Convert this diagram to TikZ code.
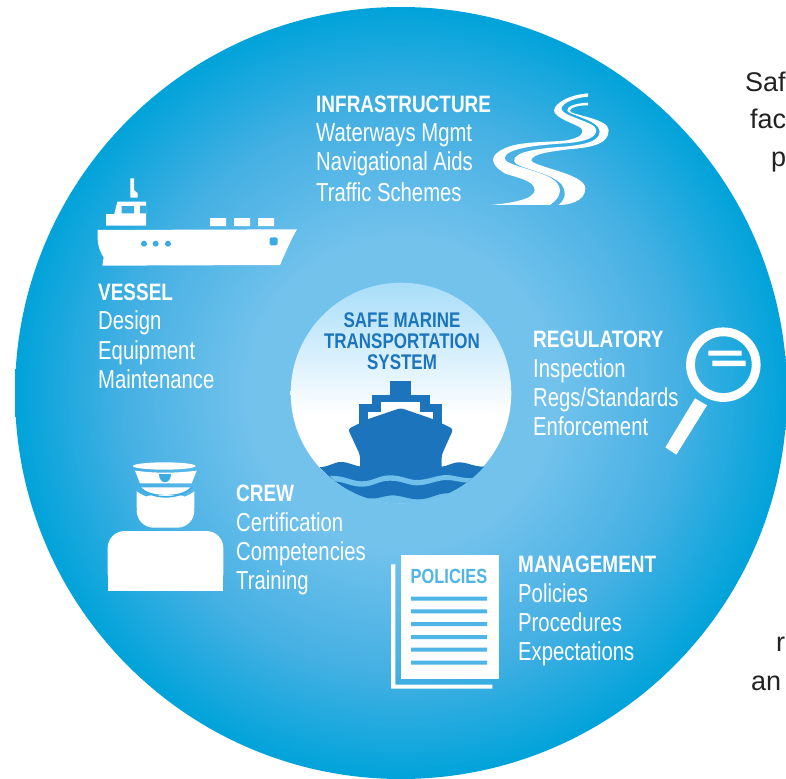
\documentclass[tikz,border=0pt]{standalone}
\usepackage{fontspec}
\setmainfont{Liberation Sans}
\newfontfamily\narrowf[FakeStretch=0.8]{Liberation Sans}
\newfontfamily\itemf[FakeStretch=0.78]{Liberation Sans}
\definecolor{discA}{HTML}{72C2EC}
\definecolor{discB}{HTML}{45B0E3}
\definecolor{discC}{HTML}{00A3DA}
\definecolor{hubtop}{HTML}{A8DDF9}
\definecolor{shipblue}{HTML}{1C75BC}
\definecolor{wavelight}{HTML}{6FC1EC}
\definecolor{policyblue}{HTML}{4FB4E6}
\definecolor{dockblue}{HTML}{3BACE2}
\definecolor{sidetext}{HTML}{222222}
\pgfdeclareradialshading{discshade}{\pgfpoint{0bp}{0bp}}{color(0bp)=(discA); color(10bp)=(discA); color(18bp)=(discB); color(25bp)=(discC); color(50bp)=(discC)}
\pgfdeclareverticalshading{hubshade}{100bp}{color(0bp)=(white); color(45bp)=(white); color(75bp)=(hubtop); color(100bp)=(hubtop)}
\tikzset{
  headtext/.style={inner sep=0pt,anchor=base west,text=white,font=\narrowf\bfseries\fontsize{23.7}{26}\selectfont},
  itemtext/.style={inner sep=0pt,anchor=base west,text=white,font=\itemf\fontsize{26}{28}\selectfont},
  hubtext/.style={inner sep=0pt,anchor=base,text=shipblue,font=\narrowf\bfseries\fontsize{21.2}{23}\selectfont},
  sidenote/.style={inner sep=0pt,anchor=base west,text=sidetext,font=\fontsize{27}{29}\selectfont},
}
\begin{document}
\begin{tikzpicture}[x=1pt,y=-1pt]
\useasboundingbox (0,0) rectangle (786,778);
\fill[white] (0,0) rectangle (786,778);
% side text
\node[sidenote] (n1) at (745,92) {Saf};
\node[sidenote] (n2) at (750,129) {fac};
\node[sidenote] (n3) at (771,167) {p};
\node[sidenote] (n4) at (776,651) {r};
\node[sidenote] (n5) at (751,690) {an};
% disc
\shade[shading=discshade] (401,393) circle[radius=386];
% hub
\shade[shading=hubshade] (401,393) circle[radius=110.3];
\node[hubtext] (h1) at (402,327) {SAFE MARINE};
\node[hubtext] (h2) at (402,348) {TRANSPORTATION};
\node[hubtext] (h3) at (402,369) {SYSTEM};
\begin{scope}[shift={(280,280)},scale=1/3]
  \fill[shipblue] (329,304) rectangle (394,344);
  \fill[shipblue] (275,344) rectangle (449,372);
  \fill[shipblue] (238,372) rectangle (486,440);
  \fill[white] (304,367) rectangle (420,400);
  \fill[white] (265,396) rectangle (458,420);
  \fill[shipblue,rounded corners=3pt] (362,384) -- (458,417) -- (520,447) -- (485,525) -- (485,570) -- (240,570) -- (240,525) -- (204,447) -- (265,417) -- cycle;
  \begin{scope}
    \clip (365,340) circle[radius=331];
    \fill[wavelight] (90,600) rectangle (640,680);
    \fill[shipblue] (110,562) .. controls (150,562) and (160,545) .. (185,546)
      .. controls (210,547) and (225,560) .. (250,560) -- (480,560)
      .. controls (505,560) and (515,546) .. (540,547)
      .. controls (565,548) and (585,562) .. (620,560)
      -- (620,640) -- (500,640) .. controls (470,640) and (450,658) .. (415,658)
      .. controls (385,658) and (365,646) .. (335,646)
      .. controls (315,646) and (295,658) .. (265,655)
      .. controls (240,652) and (220,640) .. (190,640) -- (100,640) -- cycle;
    \fill[wavelight] (150,588) .. controls (190,585) and (215,604) .. (245,604)
      .. controls (280,604) and (295,586) .. (330,586)
      .. controls (365,586) and (385,600) .. (410,600)
      .. controls (445,600) and (470,585) .. (500,585)
      .. controls (525,585) and (550,598) .. (585,594)
      -- (570,608) .. controls (540,608) and (525,600) .. (500,600)
      .. controls (470,600) and (445,616) .. (410,616)
      .. controls (385,616) and (365,602) .. (330,602)
      .. controls (295,602) and (280,620) .. (245,620)
      .. controls (215,620) and (195,606) .. (165,604) -- cycle;
  \end{scope}
\end{scope}
% infrastructure
\node[headtext] (i0) at (316,113) {INFRASTRUCTURE};
\node[itemtext] (i1) at (316,142) {Waterways Mgmt};
\node[itemtext] (i2) at (316,171) {Navigational Aids};
\node[itemtext] (i3) at (316,201) {Traffic Schemes};
\begin{scope}[shift={(488,90)},scale=1/3]
  \fill[white] (300,10) .. controls (240,15) and (200,40) .. (198,62)
    .. controls (200,85) and (270,105) .. (280,115)
    .. controls (290,135) and (270,145) .. (230,152)
    .. controls (170,157) and (90,155) .. (50,175)
    .. controls (5,195) and (2,220) .. (50,250)
    .. controls (80,262) and (140,270) .. (140,300)
    .. controls (140,330) and (60,340) .. (8,345)
    -- (185,345) .. controls (225,320) and (225,285) .. (190,265)
    .. controls (150,240) and (50,225) .. (50,205)
    .. controls (50,175) and (150,165) .. (230,160)
    .. controls (300,155) and (325,140) .. (325,120)
    .. controls (325,95) and (220,80) .. (220,55)
    .. controls (225,35) and (270,22) .. (300,20) -- cycle;
  \fill[white] (300,38) .. controls (260,40) and (235,50) .. (238,62)
    .. controls (240,75) and (335,90) .. (335,125)
    .. controls (335,160) and (270,165) .. (230,170)
    .. controls (150,175) and (78,185) .. (78,212)
    .. controls (80,235) and (190,245) .. (222,285)
    .. controls (240,315) and (225,335) .. (212,345)
    .. controls (240,345) and (292,335) .. (292,295)
    .. controls (292,250) and (130,230) .. (130,210)
    .. controls (135,190) and (190,185) .. (240,178)
    .. controls (320,172) and (362,160) .. (362,120)
    .. controls (362,85) and (245,75) .. (245,62)
    .. controls (250,50) and (275,46) .. (300,46) -- cycle;
\end{scope}
% vessel
\node[headtext] (v0) at (98,300) {VESSEL};
\node[itemtext] (v1) at (98,329) {Design};
\node[itemtext] (v2) at (98,359) {Equipment};
\node[itemtext] (v3) at (98,388) {Maintenance};
\begin{scope}[shift={(85,170)},scale=1/3]
  \fill[white] (38,180) -- (636,178) .. controls (620,205) and (600,250) .. (585,285) -- (52,287) -- (56,262)
    .. controls (40,240) and (36,210) .. (38,180) -- cycle;
  \fill[dockblue] (177,221) circle[radius=9] (212,221) circle[radius=9] (249,221) circle[radius=9];
  \fill[dockblue,rounded corners=2pt] (554,202) rectangle (578,226);
  \fill[white] (375,144) rectangle (423,168) (447,144) rectangle (495,168) (519,144) rectangle (567,168);
  \fill[white] (63,132) -- (88,132) -- (97,95) -- (183,95) -- (183,167) -- (63,167) -- cycle;
  \fill[dockblue] (110,108) rectangle (147,130) (165,107) rectangle (183,130);
  \fill[white] (136,25) -- (147,25) -- (147,60) -- (158,70) -- (158,83) -- (136,83) -- cycle;
\end{scope}
% regulatory
\node[headtext] (r0) at (533,347) {REGULATORY};
\node[itemtext] (r1) at (533,377) {Inspection};
\node[itemtext] (r2) at (533,406) {Regs/Standards};
\node[itemtext] (r3) at (533,435) {Enforcement};
\begin{scope}[shift={(650,320)},scale=1/3]
  \draw[white,line width=8.8pt] (220,134) circle[radius=98.5];
  \fill[white] (175,92) rectangle (275,107) (187,122) rectangle (287,138);
  \fill[white] (135,235) -- (171,256) -- (79,404) -- (46,382) -- cycle;
\end{scope}
% crew
\node[headtext] (c0) at (236,501) {CREW};
\node[itemtext] (c1) at (236,531) {Certification};
\node[itemtext] (c2) at (236,560) {Competencies};
\node[itemtext] (c3) at (236,589) {Training};
\begin{scope}[shift={(95,450)},scale=1/3]
  \fill[white] (208,48) ellipse[x radius=94,y radius=11];
  \fill[white] (120,62) .. controls (180,70) and (240,70) .. (305,62) -- (290,100) -- (135,100) -- cycle;
  \fill[dockblue] (192,72) .. controls (192,104) and (228,104) .. (228,72) -- cycle;
  \fill[white] (135,112) -- (290,112) .. controls (255,142) and (170,142) .. (135,112) -- cycle;
  \fill[white,rounded corners=17pt] (125,135) -- (125,233) -- (298,233) -- (298,135) -- cycle;
  \fill[white] (125,124) .. controls (170,158) and (255,158) .. (298,124) -- (298,175) -- (125,175) -- cycle;
  \draw[dockblue,line width=1.6pt] (135,112) .. controls (170,150) and (255,150) .. (290,112);
  \fill[white,rounded corners=17pt] (38,422) -- (38,243) -- (385,243) -- (385,422) -- cycle;
  \fill[white] (38,380) rectangle (385,422);
\end{scope}
% management
\node[headtext] (m0) at (518,572) {MANAGEMENT};
\node[itemtext] (m1) at (518,602) {Policies};
\node[itemtext] (m2) at (518,631) {Procedures};
\node[itemtext] (m3) at (518,660) {Expectations};
\begin{scope}[shift={(380,545)},scale=1/3]
  \fill[white] (33,58) -- (46,58) -- (46,419) -- (337,419) -- (337,431) -- (33,431) -- cycle;
  \fill[white] (62,30) rectangle (358,403);
  \fill[policyblue] (93,155) rectangle (321,167) (93,193) rectangle (321,205) (93,231) rectangle (321,243)
    (93,270) rectangle (321,282) (93,308) rectangle (321,320) (93,347) rectangle (321,359);
\end{scope}
\node[inner sep=0pt,anchor=base,text=policyblue,font=\narrowf\bfseries\fontsize{20.5}{23}\selectfont] (p0) at (449,583) {POLICIES};
\end{tikzpicture}
\end{document}
